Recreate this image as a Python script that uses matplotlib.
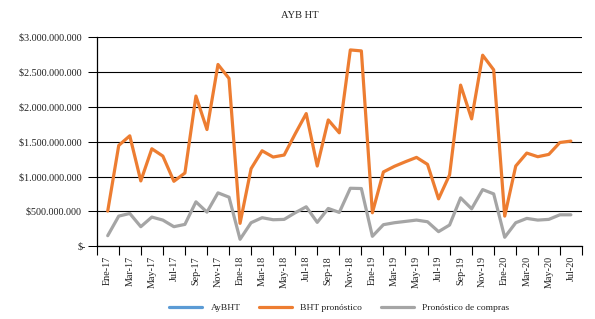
import matplotlib
matplotlib.use("Agg")
import matplotlib.pyplot as plt
from matplotlib.ticker import FixedLocator, FuncFormatter

plt.rcParams['font.family'] = ['Liberation Serif', 'DejaVu Serif']

months = ['Ene', 'Feb', 'Mar', 'Abr', 'May', 'Jun', 'Jul', 'Ago', 'Sep', 'Oct', 'Nov', 'Dic']
years = ['17', '18', '19', '20']
categories = [f"{m}-{y}" for y in years for m in months][:43]  # Ene-17 .. Jul-20

# AyBHT series: no visible values in the reference (legend entry only)
ay_bht = []

bht_pronostico = [
    505, 1448, 1586, 938, 1400, 1295, 933, 1052, 2157, 1676, 2610, 2410,
    329, 1114, 1371, 1281, 1310, 1614, 1905, 1152, 1814, 1629, 2819, 2805,
    481, 1067, 1148, 1214, 1276, 1176, 681, 1025, 2314, 1829, 2743, 2533,
    433, 1152, 1338, 1286, 1319, 1490, 1510,
]
pronostico_compras = [
    152, 433, 471, 281, 419, 376, 281, 314, 638, 490, 767, 705,
    100, 338, 410, 381, 386, 481, 567, 343, 543, 486, 833, 829,
    143, 310, 338, 357, 376, 352, 210, 305, 695, 538, 814, 752,
    129, 338, 400, 376, 386, 452, 452,
]
bht_pronostico = [v * 1e6 for v in bht_pronostico]
pronostico_compras = [v * 1e6 for v in pronostico_compras]

title = "AYB HT"
y_ticks = [0, 5e8, 1e9, 1.5e9, 2e9, 2.5e9, 3e9]

FS = 7.3
LFS = 6.8
fig = plt.figure(figsize=(5.95, 3.19), dpi=100)
ax = fig.add_axes([0.1625, 0.228, 0.978 - 0.1625, 0.883 - 0.228])

x = list(range(len(categories)))
ax.plot(list(range(len(ay_bht))), ay_bht, color='#5B9BD5', lw=2.3, label='AyBHT',
        solid_capstyle='round')
ax.plot(x, bht_pronostico, color='#ED7D31', lw=2.3, label='BHT pronóstico',
        solid_joinstyle='round', solid_capstyle='round', zorder=4)
ax.plot(x, pronostico_compras, color='#A5A5A5', lw=2.3, label='Pronóstico de compras',
        solid_joinstyle='round', solid_capstyle='round', zorder=3)

ax.set_ylim(0, 3e9)
ax.set_xlim(-1, 43)

def fmt(v, pos):
    if v == 0:
        return "$-"
    s = f"{int(round(v)):,}".replace(",", ".")
    return f"${s}  "

ax.yaxis.set_major_locator(FixedLocator(y_ticks))
ax.yaxis.set_major_formatter(FuncFormatter(fmt))
ax.tick_params(axis='y', direction='out', length=6.5, width=0.75, color='black',
               labelsize=FS, pad=1, labelcolor='#222222')
ax.grid(axis='y', color='black', lw=0.8)
ax.set_axisbelow(True)

ax.set_xticks(x[::2])
ax.set_xticklabels(categories[::2], rotation=90, fontsize=FS, color='#222222')
ax.set_xticks(list(range(-1, 44, 2)), minor=True)
ax.tick_params(axis='x', which='major', length=0, pad=7)
ax.tick_params(axis='x', which='minor', direction='out', length=6.5, width=0.8, color='black')

for s in ['top', 'right']:
    ax.spines[s].set_visible(False)
ax.spines['left'].set_color('black')
ax.spines['left'].set_linewidth(0.9)
ax.spines['bottom'].set_color('black')
ax.spines['bottom'].set_linewidth(0.9)

fig.text(0.504, 1 - 15 / 319, title, ha='center', va='center', fontsize=7.6, color='#222222')

leg = fig.legend(loc='center', bbox_to_anchor=(0.57, 0.035), ncol=3, frameon=False,
                 fontsize=LFS, handlelength=3.5, handletextpad=0.9, columnspacing=1.95)
for t in leg.get_texts():
    t.set_color('#222222')

fig.savefig('out.png', dpi=100)
